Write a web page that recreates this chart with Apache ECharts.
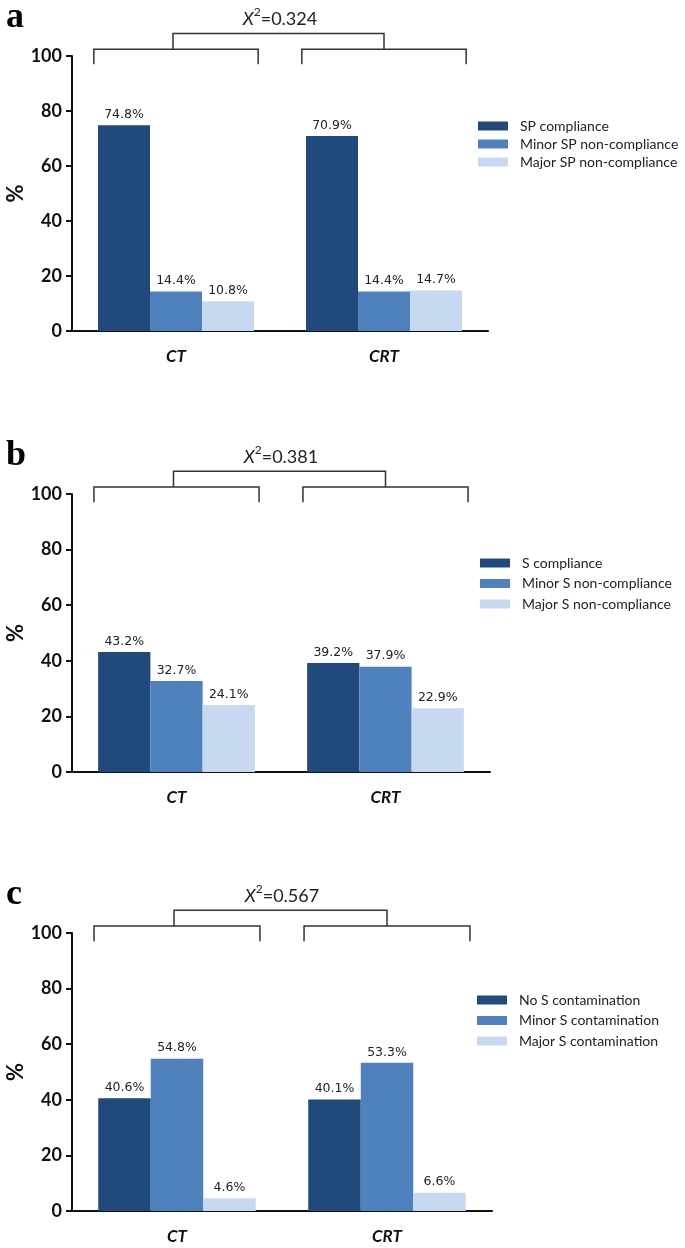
<!DOCTYPE html>
<html><head><meta charset="utf-8">
<script src="https://cdn.jsdelivr.net/npm/echarts@6/dist/echarts.min.js"></script>
<style>html,body{margin:0;padding:0;background:#fff}#c{width:685px;height:1248px}</style>
</head><body><div id="c"></div>
<script>
// ---- data ----
const categories = ['CT', 'CRT'];
const panelLetters = ['a', 'b', 'c'];
const chiValues = ['0.324', '0.381', '0.567'];
const yTicks = [0, 20, 40, 60, 80, 100];

const namesA = ['SP compliance', 'Minor SP non-compliance', 'Major SP non-compliance'];
const valsA1 = [74.8, 70.9];
const valsA2 = [14.4, 14.4];
const valsA3 = [10.8, 14.7];

const namesB = ['S compliance', 'Minor S non-compliance', 'Major S non-compliance'];
const valsB1 = [43.2, 39.2];
const valsB2 = [32.7, 37.9];
const valsB3 = [24.1, 22.9];

const namesC = ['No S contamination', 'Minor S contamination', 'Major S contamination'];
const valsC1 = [40.6, 40.1];
const valsC2 = [54.8, 53.3];
const valsC3 = [4.6, 6.6];

// ---- styling ----
const colors = ['#214A7C', '#4F81BD', '#C6D9F1'];
const panels = [
  {names: namesA, vals: [valsA1, valsA2, valsA3], grid: {left: 72, right: 197, top: 56, height: 275}, legend: {left: 473, top: 114, gap: 4}},
  {names: namesB, vals: [valsB1, valsB2, valsB3], grid: {left: 72, right: 195, top: 494, height: 278}, legend: {left: 475, top: 551, gap: 6.5}},
  {names: namesC, vals: [valsC1, valsC2, valsC3], grid: {left: 72, right: 193, top: 933, height: 278}, legend: {left: 472, top: 988, gap: 6.5}}
];

const chart = echarts.init(document.getElementById('c'), null, {renderer: 'canvas'});
const option = {
  animation: false,
  backgroundColor: '#fff',
  grid: panels.map(p => Object.assign({containLabel: false, outerBoundsMode: 'none'}, p.grid)),
  xAxis: panels.map((p, i) => ({
    type: 'category', gridIndex: i, data: categories,
    axisLine: {lineStyle: {color: '#111', width: 2}},
    axisTick: {show: false},
    axisLabel: {margin: 17, fontFamily: 'Lato', fontWeight: 'bold', fontStyle: 'italic', fontSize: 17, color: '#111'}
  })),
  yAxis: panels.map((p, i) => ({
    type: 'value', gridIndex: i, min: yTicks[0], max: yTicks[yTicks.length - 1], interval: 20,
    name: '%', nameLocation: 'middle', nameGap: 45, nameRotate: 90, nameMoveOverlap: false,
    nameTextStyle: {fontFamily: 'Lato', fontWeight: 'bold', fontSize: 22, color: '#111'},
    axisLine: {show: true, lineStyle: {color: '#111', width: 2}},
    axisTick: {show: true, length: 6, lineStyle: {color: '#111', width: 2}},
    splitLine: {show: false},
    axisLabel: {margin: 10, fontFamily: 'Lato', fontWeight: 'bold', fontSize: 18, color: '#111'}
  })),
  legend: panels.map((p, i) => ({
    orient: 'vertical', left: p.legend.left, top: p.legend.top, itemGap: p.legend.gap,
    itemWidth: 30, itemHeight: 9, icon: 'rect', data: p.names,
    textStyle: {fontFamily: 'Lato', fontSize: 14, color: '#222', lineHeight: 14, padding: [0, 0, 0, 7]}
  })),
  series: []
};
panels.forEach((p, pi) => {
  p.names.forEach((n, si) => {
    option.series.push({
      type: 'bar', name: n, xAxisIndex: pi, yAxisIndex: pi, data: p.vals[si],
      barGap: '0%', barCategoryGap: '25%',
      itemStyle: {color: colors[si]},
      label: {show: true, position: 'top', distance: 4, fontFamily: 'DejaVu Sans', fontSize: 12.5, color: '#222',
        formatter: v => v.value.toFixed(1) + '%'}
    });
  });
});
chart.setOption(option);

// ---- brackets / annotations ----
const graphics = [];
panels.forEach((p, pi) => {
  const px = (ci, v) => chart.convertToPixel({gridIndex: pi}, [ci, v]);
  const x0 = px(0, 0)[0], x1 = px(1, 0)[0];
  const band = x1 - x0;
  const h = band * 0.395;
  const yLow = px(0, 97)[1], yMid = px(0, 102.5)[1], yTop = px(0, 108.2)[1], yTxt = px(0, 114)[1];
  const st = {stroke: '#333', lineWidth: 1.5, fill: null};
  [x0, x1].forEach(xc => {
    graphics.push({type: 'polyline', shape: {points: [[xc - h, yLow], [xc - h, yMid], [xc + h, yMid], [xc + h, yLow]]}, style: st, silent: true});
  });
  graphics.push({type: 'polyline', shape: {points: [[x0 - 3, yMid], [x0 - 3, yTop], [x1, yTop], [x1, yMid]]}, style: st, silent: true});
  graphics.push({type: 'text', x: (x0 + x1) / 2, y: yTxt, style: {
    text: '{i|X}{s|2}{n|=' + chiValues[pi] + '}', align: 'center', verticalAlign: 'middle',
    font: '18px Lato', fill: '#222',
    rich: {
      i: {fontStyle: 'italic', fontSize: 18, fontFamily: 'Lato', fill: '#222', lineHeight: 22, verticalAlign: 'bottom'},
      s: {fontSize: 12, fontFamily: 'Lato', fill: '#222', lineHeight: 12, verticalAlign: 'top'},
      n: {fontSize: 18, fontFamily: 'Lato', fill: '#222', lineHeight: 22, verticalAlign: 'bottom'}
    }
  }});
  graphics.push({type: 'text', x: 6, y: px(0, 100)[1] - 38, style: {
    text: panelLetters[pi], font: 'bold 36px "Liberation Serif"', fill: '#000', align: 'left', verticalAlign: 'middle'
  }});
});
chart.setOption({graphic: graphics});
</script></body></html>
